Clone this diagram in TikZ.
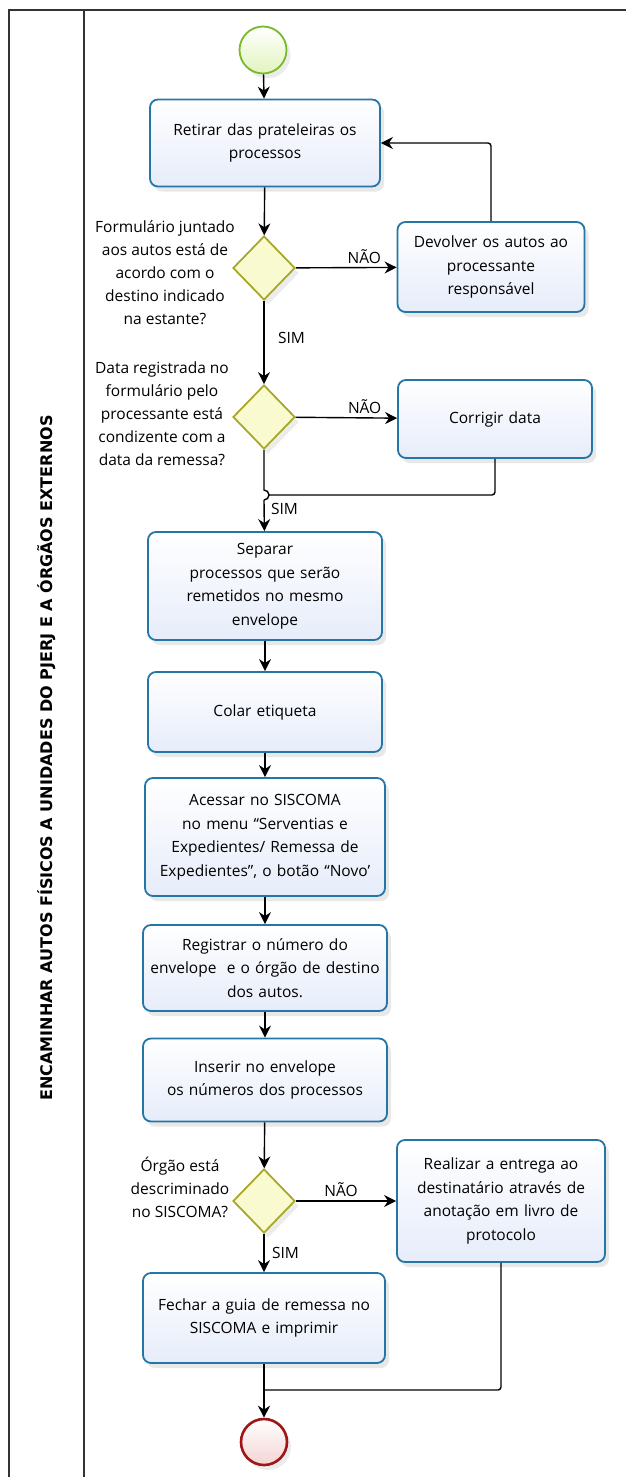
\documentclass[tikz,border=0pt]{standalone}
\usepackage{fontspec}
\setmainfont{Open Sans}
\newfontfamily\lanefont{DejaVu Sans}
\usetikzlibrary{shapes.geometric,shadows,arrows.meta}

\definecolor{taskline}{RGB}{38,118,165}
\definecolor{taskfill}{RGB}{230,236,250}
\definecolor{gateline}{RGB}{168,168,40}
\definecolor{gatefill}{RGB}{250,250,208}
\definecolor{startline}{RGB}{122,186,42}
\definecolor{startfill}{RGB}{226,244,190}
\definecolor{endline}{RGB}{160,22,22}
\definecolor{endfill}{RGB}{244,212,212}

\tikzset{
  task/.style={draw=taskline, line width=1.8pt, rounded corners=8pt,
    top color=white, bottom color=taskfill,
    drop shadow={opacity=0.18, shadow xshift=4pt, shadow yshift=-5pt},
    align=center, inner sep=0pt, font=\fontsize{15.5}{23.5}\selectfont},
  gate/.style={diamond, draw=gateline, line width=1.8pt, fill=gatefill,
    minimum width=62pt, minimum height=64pt, inner sep=0pt,
    drop shadow={opacity=0.15, shadow xshift=4pt, shadow yshift=-5pt}},
  ask/.style={align=center, font=\fontsize{15.5}{23}\selectfont},
  tag/.style={font=\fontsize{15.5}{16}\selectfont},
  flow/.style={line width=1.4pt, -{Stealth[length=12pt,width=12pt]}},
  link/.style={line width=1.4pt},
}

\begin{document}
\begin{tikzpicture}[x=1pt, y=-1pt]
  \useasboundingbox (0,0) rectangle (626,1477);

  % lane
  \draw[line width=1.3pt, black!80] (9,1477) -- (9,10) -- (626,10);
  \draw[line width=1.3pt, black!80] (84,10) -- (84,1477);
  \node[rotate=90, font=\lanefont\fontsize{16}{18}\bfseries\selectfont] (lane) at (47,758)
    {ENCAMINHAR AUTOS FÍSICOS A UNIDADES DO PJERJ E A ÓRGÃOS EXTERNOS};

  % events
  \node[circle, draw=startline, line width=1.8pt, top color=white, bottom color=startfill,
    minimum size=47pt, drop shadow={opacity=0.15, shadow xshift=4pt, shadow yshift=-5pt}]
    (start) at (263,50) {};
  \node[circle, draw=endline, line width=2.6pt, top color=white, bottom color=endfill,
    minimum size=46pt, drop shadow={opacity=0.15, shadow xshift=4pt, shadow yshift=-5pt}]
    (stop) at (264,1442) {};

  % tasks
  \node[task, minimum width=230pt, minimum height=87pt, text width=220pt] (retirar) at (265,143)
    {Retirar das prateleiras os\\processos};
  \node[task, minimum width=187pt, minimum height=90pt, text width=180pt] (devolver) at (491,267)
    {Devolver os autos ao\\processante\\responsável};
  \node[task, minimum width=194pt, minimum height=78pt, text width=186pt] (corrigir) at (495,419)
    {Corrigir data};
  \node[task, minimum width=234pt, minimum height=108pt, text width=224pt] (separar) at (265,586)
    {Separar\\processos que serão\\remetidos no mesmo\\envelope};
  \node[task, minimum width=234pt, minimum height=80pt, text width=224pt] (colar) at (265,712)
    {Colar etiqueta};
  \node[task, minimum width=240pt, minimum height=118pt, text width=234pt] (acessar) at (265,837)
    {Acessar no SISCOMA\\no menu “Serventias e\\Expedientes/ Remessa de\\Expedientes”, o botão “Novo’};
  \node[task, minimum width=244pt, minimum height=86pt, text width=238pt] (registrar) at (265,968)
    {Registrar o número do\\envelope \ e o órgão de destino\\dos autos.};
  \node[task, minimum width=244pt, minimum height=83pt, text width=236pt] (inserir) at (265,1080)
    {Inserir no envelope\\os números dos processos};
  \node[task, minimum width=208pt, minimum height=122pt, text width=204pt] (realizar) at (501,1201)
    {Realizar a entrega ao\\destinatário através de\\anotação em livro de\\protocolo};
  \node[task, minimum width=242pt, minimum height=90pt, text width=234pt] (fechar) at (264,1318)
    {Fechar a guia de remessa no\\SISCOMA e imprimir};

  % gateways
  \node[gate] (formulario) at (264,268) {};
  \node[gate] (data) at (264,417) {};
  \node[gate] (orgao) at (264,1201) {};

  \node[ask] (askformulario) at (165,273)
    {Formulário juntado\\aos autos está de\\acordo com o\\destino indicado\\na estante?};
  \node[ask] (askdata) at (162,414)
    {Data registrada no\\formulário pelo\\processante está\\condizente com a\\data da remessa?};
  \node[ask] (askorgao) at (180,1187)
    {Órgão está\\descriminado\\no SISCOMA?};

  % flows
  \draw[flow] (start) -- (retirar);
  \draw[flow] (retirar) -- (formulario);
  \draw[flow] (formulario) -- node[tag, above, pos=0.68] (nao1) {NÃO} (devolver);
  \draw[flow, rounded corners=3pt] (devolver.north) -- (devolver.north |- retirar.east) -- (retirar.east);
  \draw[flow] (formulario) -- node[tag, right, pos=0.45, xshift=10pt] (sim1) {SIM} (data);
  \draw[flow] (data) -- node[tag, above, pos=0.68] (nao2) {NÃO} (corrigir);
  \coordinate (hop) at (264,490);
  \draw[link] (data.south) -- (hop) arc[start angle=90, end angle=-90, radius=5pt];
  \draw[flow] (264,500) -- node[tag, right, pos=0.3, xshift=3pt] (sim2) {SIM} (separar);
  \draw[link, rounded corners=3pt] (corrigir.south) -- (corrigir.south |- 0,495) -- (269,495);
  \draw[flow] (separar) -- (colar);
  \draw[flow] (colar) -- (acessar);
  \draw[flow] (acessar) -- (registrar);
  \draw[flow] (registrar) -- (inserir);
  \draw[flow] (inserir) -- (orgao);
  \draw[flow] (orgao) -- node[tag, above, pos=0.45] (nao3) {NÃO} (realizar);
  \draw[flow] (orgao) -- node[tag, right, xshift=4pt] (sim3) {SIM} (fechar);
  \draw[flow] (fechar) -- (stop);
  \draw[link, rounded corners=3pt] (realizar.south) -- (realizar.south |- 0,1390) -- (264,1390);
\end{tikzpicture}
\end{document}
